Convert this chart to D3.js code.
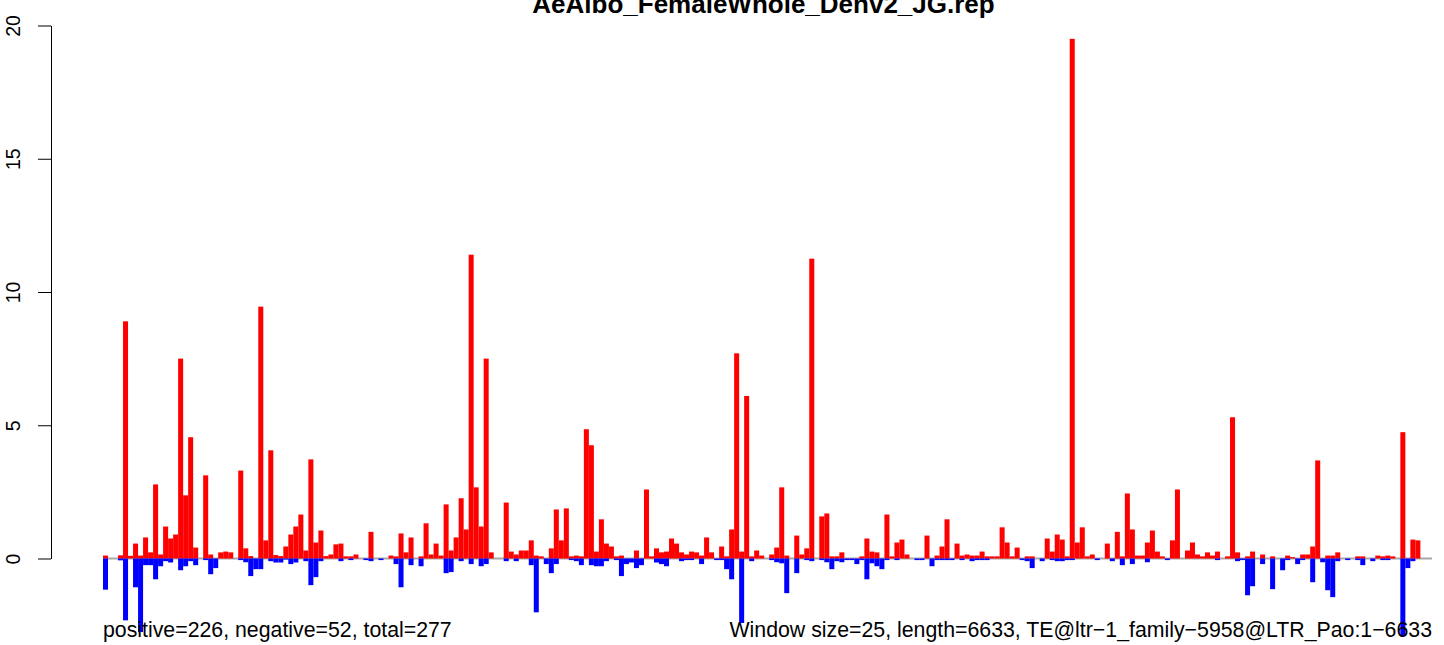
<!DOCTYPE html>
<html><head><meta charset="utf-8">
<script src="https://cdn.jsdelivr.net/npm/d3@7"></script>
<style>
body{margin:0;background:#fff}
svg{display:block}
text{font-family:"Liberation Sans",Arial,Helvetica,sans-serif;fill:#000}
</style>
</head><body>
<svg id="chart" width="1444" height="645"></svg>
<script>
const chartTitle = "AeAlbo_FemaleWhole_Denv2_JG.rep";
const windowSize = 25;
const seqLength = 6633;
const yTicks = [0, 5, 10, 15, 20];
const leftNote = "positive=226, negative=52, total=277";
const rightNote = "Window size=25, length=6633, TE@ltr\u22121_family\u22125958@LTR_Pao:1\u22126633";

const positiveValues = [
0.11,0,0,0.12,8.9,0.1,0.56,0.11,0.79,0.23,
2.78,0.15,1.2,0.75,0.9,7.5,2.37,4.55,0.41,0,
3.12,0.15,0,0.23,0.26,0.23,0,3.3,0.38,0.09,
0,9.45,0.68,4.06,0.13,0.09,0.45,0.9,1.2,1.65,
0.3,3.72,0.6,1.05,0.09,0.15,0.53,0.56,0.08,0.08,
0.15,0,0,1.0,0,0,0,0.11,0.08,0.94,
0.23,0.79,0,0.08,1.32,0.15,0.56,0.11,2.03,0.3,
0.79,2.26,1.09,11.4,2.67,1.2,7.5,0.23,0,0,
2.1,0.26,0.15,0.3,0.3,0.68,0.11,0.08,0,0.38,
1.84,0.68,1.88,0.08,0.11,0.08,4.85,4.25,0.26,1.47,
0.56,0.45,0.08,0.11,0,0,0.3,0,2.59,0.08,
0.38,0.23,0.26,0.75,0.56,0.23,0.15,0.26,0.23,0.11,
0.79,0.23,0,0.45,0.08,1.09,7.7,0.26,6.1,0.08,
0.3,0.11,0,0.15,0.41,2.67,0.11,0,0.86,0.15,
0.38,11.25,0,1.58,1.69,0.08,0.08,0.23,0,0,
0,0.08,0.75,0.26,0.23,0,1.65,0.08,0.6,0.71,
0.15,0,0,0,0.86,0,0.11,0.45,1.47,0,
0.56,0.11,0.15,0.11,0.11,0.26,0.08,0.08,0.08,1.17,
0.6,0.08,0.41,0,0.08,0.08,0,0,0.75,0.26,
0.9,0.71,0.08,19.5,0.6,1.17,0.08,0.15,0,0,
0.56,0,1.0,0.08,2.44,1.09,0.11,0.11,0.6,1.05,
0.26,0.08,0,0.68,2.59,0,0.3,0.6,0.15,0.08,
0.23,0.11,0.26,0,0.08,5.3,0.23,0,0.08,0.26,
0,0.15,0,0.08,0,0,0.11,0.05,0,0.15,
0.15,0.45,3.68,0,0.11,0.11,0.23,0,0,0,
0.08,0.08,0,0,0.11,0.08,0.11,0.08,0,4.74,
0,0.71,0.68,0,0,0
];

const negativeValues = [
-1.17,0,0,-0.07,-2.32,0,-1.08,-2.76,-0.25,-0.25,
-0.78,-0.29,-0.1,-0.15,0,-0.44,-0.29,-0.1,-0.25,0,
-0.06,-0.59,-0.36,0,0,0,0,-0.06,-0.14,-0.66,
-0.4,-0.4,0,-0.1,-0.15,-0.15,-0.04,-0.21,-0.15,0,
-0.1,-1.0,-0.7,-0.1,0,0,0,-0.1,0,-0.06,
0,0,-0.06,-0.1,0,-0.06,0,0,-0.21,-1.08,
0,-0.25,0,-0.29,0,0,0,0,-0.55,-0.51,
0,-0.1,0,-0.21,0,-0.29,-0.21,0,0,0,
-0.1,0,-0.1,0,0,-0.25,-2.02,0,-0.21,-0.55,
-0.21,0,0,-0.06,-0.1,-0.25,0,-0.25,-0.29,-0.29,
-0.1,0,-0.06,-0.66,-0.21,-0.15,-0.36,-0.25,0,0,
-0.15,-0.21,-0.29,0,0,-0.1,-0.06,-0.06,0,-0.21,
0,0,-0.06,-0.06,-0.4,-0.78,0,-2.42,0,-0.1,
0,0,0,-0.06,-0.14,-0.18,-1.3,0,-0.55,0,
-0.06,-0.1,0,-0.06,-0.14,-0.4,-0.1,-0.14,-0.06,-0.06,
-0.21,-0.06,-0.78,-0.18,-0.29,-0.4,-0.06,0,-0.06,0,
0,0,-0.06,-0.06,0,-0.29,-0.06,-0.06,-0.06,-0.06,
0,-0.06,0,-0.1,-0.06,-0.06,-0.06,0,0,0,
0,0,0,-0.06,-0.1,-0.36,0,-0.1,0,-0.06,
-0.1,-0.1,-0.06,-0.06,0,0,0,0,-0.06,0,
0,-0.1,0,-0.25,0,-0.21,0,0,-0.14,0,
0,0,-0.06,0,0,0,0,0,0,0,
0,0,-0.06,0,0,0,-0.1,-0.06,-1.38,-1.04,
0,-0.21,0,-1.15,0,-0.44,-0.06,0,-0.21,-0.06,
0,-0.89,0,-0.14,-1.19,-1.45,-0.1,0,-0.06,0,
-0.06,-0.25,0,-0.1,0,-0.06,-0.06,0,0,-2.92,
-0.36,-0.1,0,0,0,0
];

const svg = d3.select("#chart");
const x = d3.scaleLinear().domain([0, seqLength]).range([103, 1432]);
const y = d3.scaleLinear().domain([0, 20]).range([558.5, 25.5]);

const windows = positiveValues.map((p, i) => ({start: i * windowSize, pos: p, neg: negativeValues[i]}));

// baseline
svg.append("line")
  .attr("x1", x(0)).attr("x2", x(seqLength))
  .attr("y1", y(0)).attr("y2", y(0))
  .attr("stroke", "#a8a8a8").attr("stroke-width", 2);

const bw = d => x(d.start + windowSize) - x(d.start);

svg.append("g").selectAll("rect")
  .data(windows.filter(d => d.pos !== 0))
  .join("rect")
  .attr("x", d => x(d.start))
  .attr("width", bw)
  .attr("y", d => y(d.pos))
  .attr("height", d => y(0) - y(d.pos))
  .attr("fill", "#ff0000");

svg.append("g").selectAll("rect")
  .data(windows.filter(d => d.neg !== 0))
  .join("rect")
  .attr("x", d => x(d.start))
  .attr("width", bw)
  .attr("y", y(0))
  .attr("height", d => y(d.neg) - y(0))
  .attr("fill", "#0000ff");

// y axis
const axis = svg.append("g").attr("transform", "translate(51,0)")
  .call(d3.axisLeft(y).tickValues(yTicks).tickSize(13).tickSizeOuter(0).tickFormat(d3.format("d")));
axis.select(".domain").attr("stroke", "#000").attr("stroke-width", 1);
axis.selectAll(".tick line").attr("stroke", "#000");
axis.selectAll(".tick text")
  .attr("x", 0).attr("dy", 0)
  .attr("transform", "translate(-31,0) rotate(-90)")
  .attr("text-anchor", "middle")
  .style("font-family", "'Liberation Sans',Arial,sans-serif")
  .style("font-size", "19.5px")
  .attr("fill", "#000");

// title
svg.append("text")
  .attr("x", (x(0) + x(seqLength)) / 2 - 4).attr("y", 13)
  .attr("text-anchor", "middle")
  .style("font-weight", "bold").style("font-size", "26px")
  .text(chartTitle);

// notes
svg.append("text").attr("x", x(0)).attr("y", 637)
  .attr("text-anchor", "start").style("font-size", "21.3px").text(leftNote);
svg.append("text").attr("x", x(seqLength)).attr("y", 637)
  .attr("text-anchor", "end").style("font-size", "21.3px").text(rightNote);
</script>
</body></html>
